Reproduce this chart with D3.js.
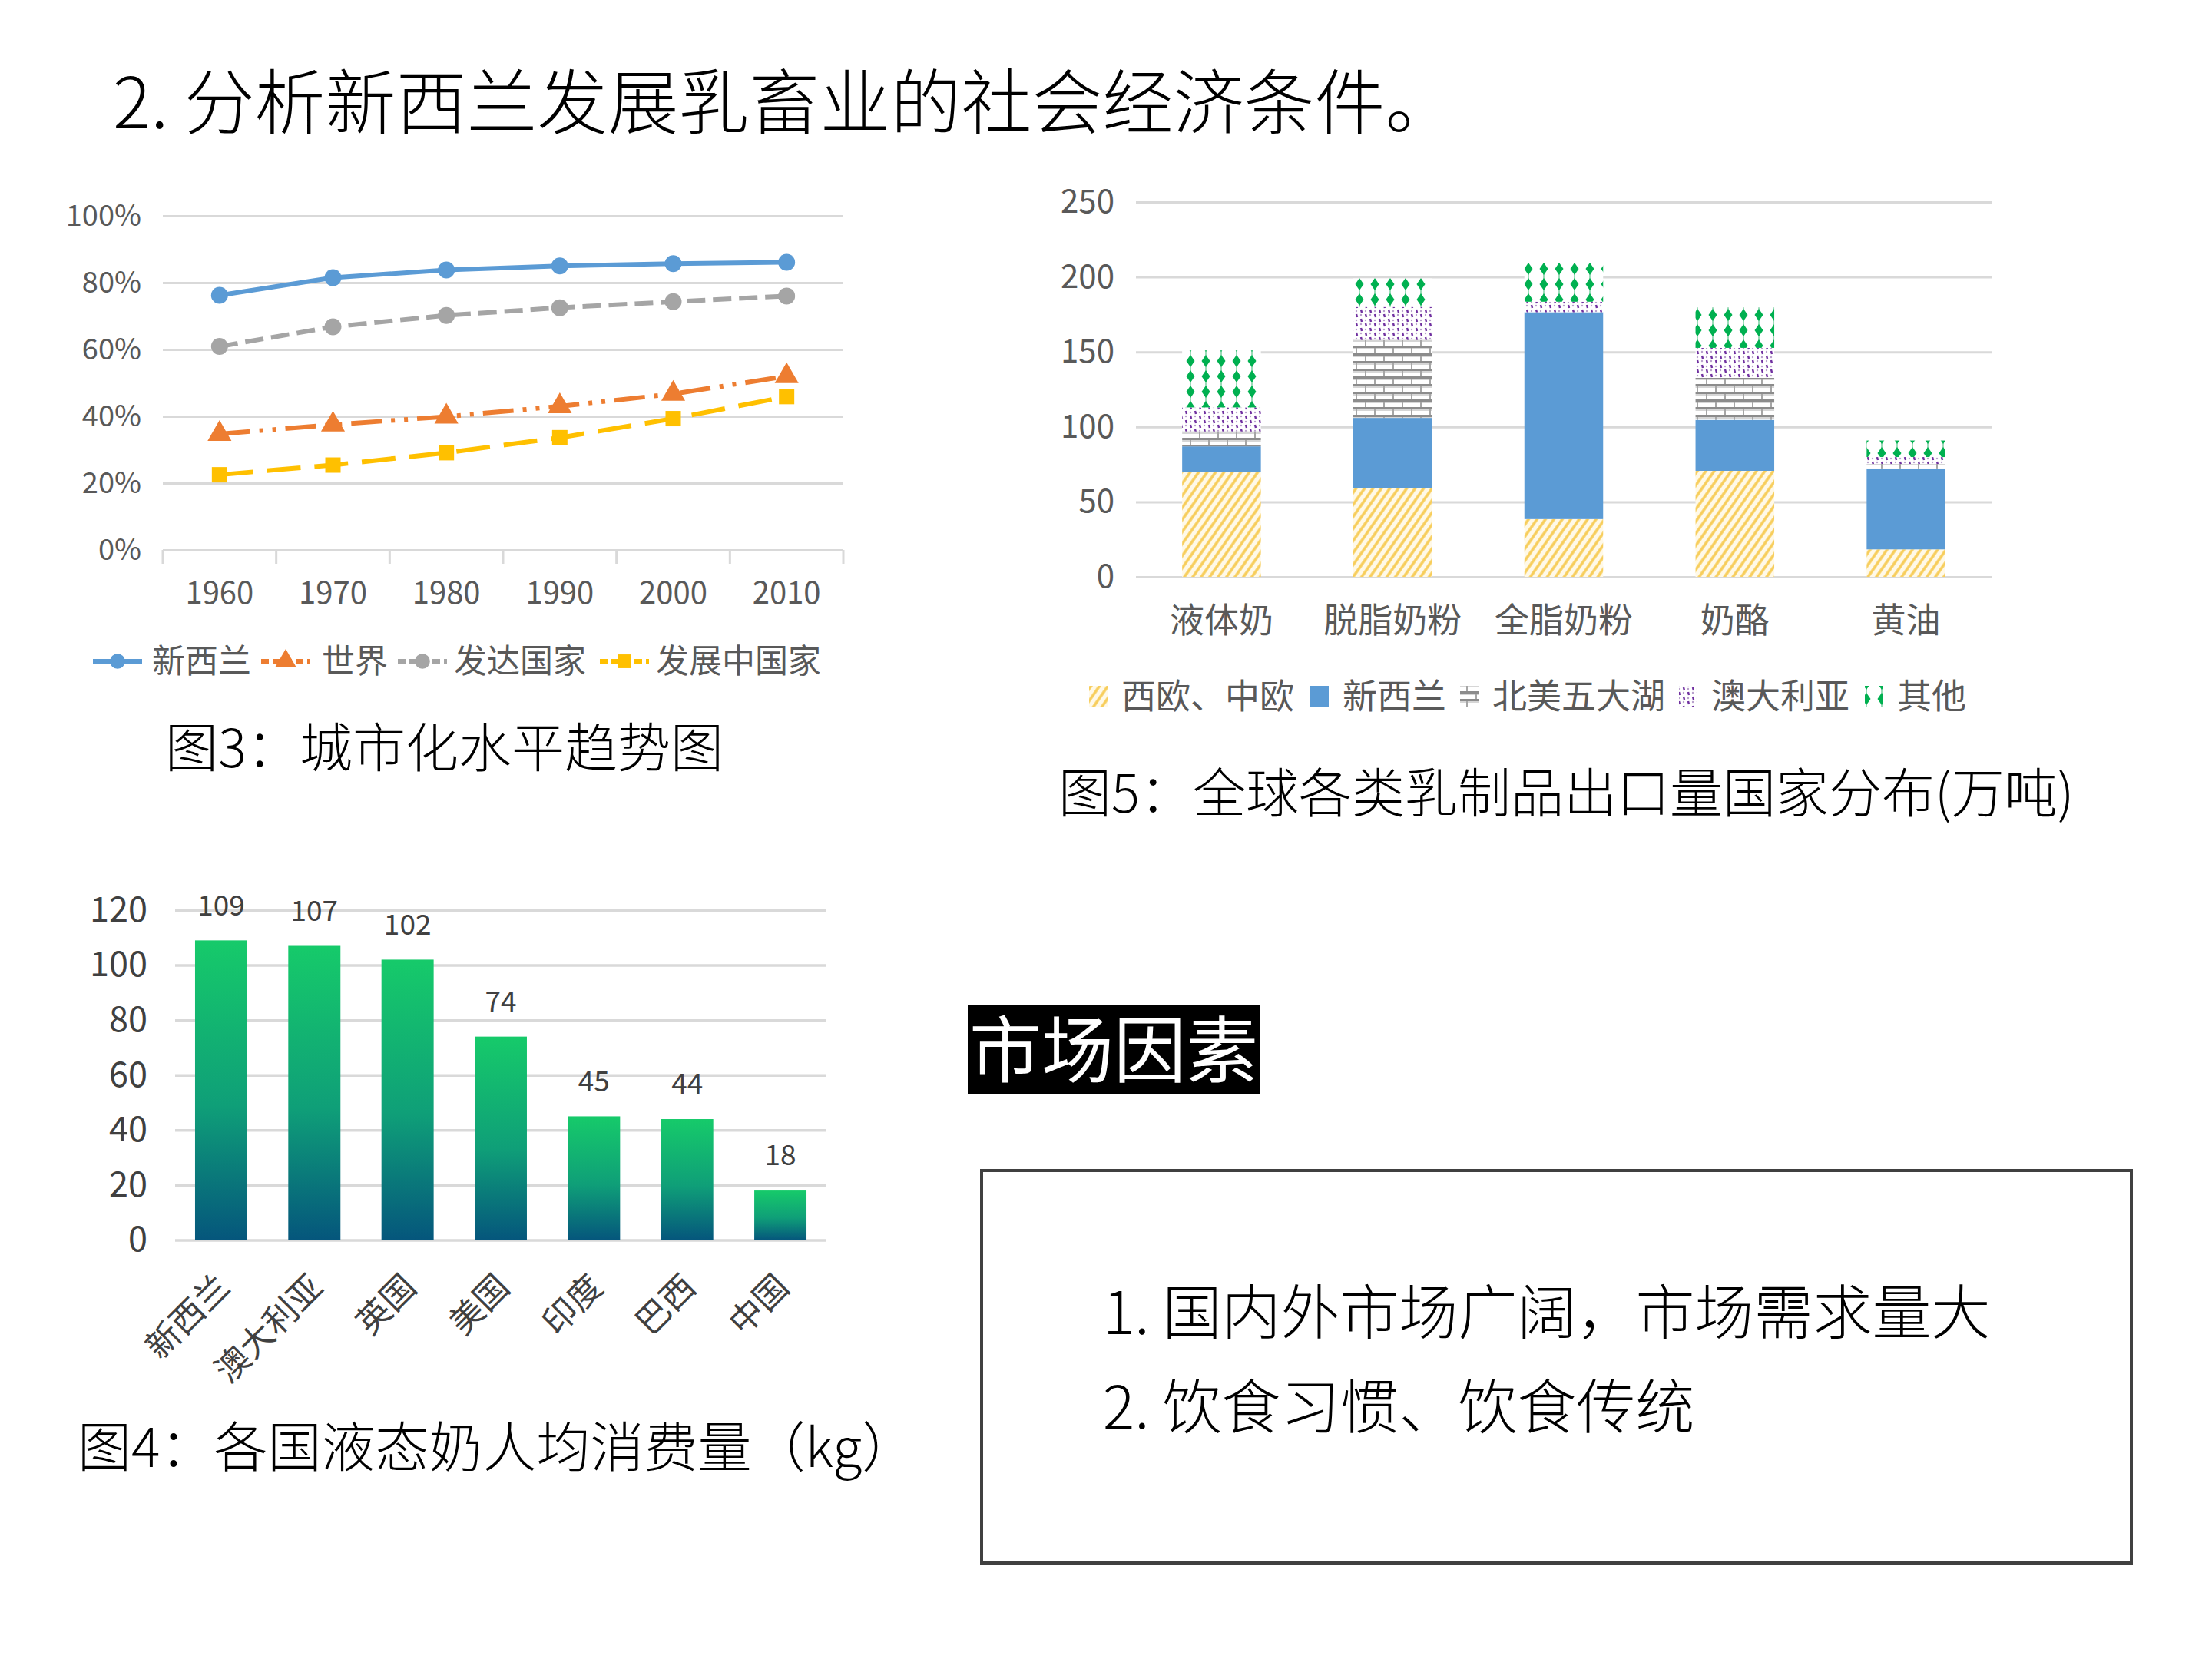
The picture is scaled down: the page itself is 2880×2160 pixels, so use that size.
<!DOCTYPE html>
<html>
<head>
<meta charset="utf-8">
<script src="https://cdn.jsdelivr.net/npm/d3@7"></script>
<style>
  html, body { margin: 0; padding: 0; background: #fff; }
  svg { display: block; }
</style>
</head>
<body>
<div id="root"></div>
<script>
// ---------- data ----------
const years = ['1960', '1970', '1980', '1990', '2000', '2010'];
const nzUrban = [0.762, 0.815, 0.838, 0.85, 0.857, 0.861];
const worldUrban = [0.347, 0.375, 0.399, 0.43, 0.467, 0.52];
const developedUrban = [0.609, 0.668, 0.702, 0.725, 0.743, 0.76];
const developingUrban = [0.225, 0.254, 0.291, 0.336, 0.393, 0.459];
const urbanNames = ['新西兰', '世界', '发达国家', '发展中国家'];
const pctTicks = [0, 0.2, 0.4, 0.6, 0.8, 1];

const products = ['液体奶', '脱脂奶粉', '全脂奶粉', '奶酪', '黄油'];
const exportRegions = ['西欧、中欧', '新西兰', '北美五大湖', '澳大利亚', '其他'];
const westCentralEurope = [70, 59, 38.5, 70.7, 18.3];
const newZealandExport = [17, 47, 138, 34, 54];
const greatLakesExport = [10, 52, 0, 28, 3];
const australiaExport = [16, 22, 7, 20, 4.6];
const otherExport = [38, 19, 26, 27, 11];
const exportTicks = [0, 50, 100, 150, 200, 250];

const countries = ['新西兰', '澳大利亚', '英国', '美国', '印度', '巴西', '中国'];
const milkPerCapita = [109, 107, 102, 74, 45, 44, 18];
const milkTicks = [0, 20, 40, 60, 80, 100, 120];

const marketPoints = ['1. 国内外市场广阔，市场需求量大', '2. 饮食习惯、饮食传统'];

// ---------- setup ----------
const FONT = '"Noto Sans CJK SC", "Noto Sans", sans-serif';
const W = 2880, H = 2160;

const svg = d3.select('#root').append('svg')
    .attr('width', W)
    .attr('height', H)
    .style('font-family', FONT);

svg.append('rect').attr('width', W).attr('height', H).attr('fill', '#fff');

const defs = svg.append('defs');

// yellow wide upward diagonal
const pDiag = defs.append('pattern')
    .attr('id', 'pDiag')
    .attr('patternUnits', 'userSpaceOnUse')
    .attr('width', 9).attr('height', 9)
    .attr('patternTransform', 'rotate(35)');
pDiag.append('rect').attr('width', 9).attr('height', 9).attr('fill', '#FFF9E8');
pDiag.append('line').attr('x1', 2).attr('y1', 0).attr('x2', 2).attr('y2', 9)
    .attr('stroke', '#F7CD5A').attr('stroke-width', 3.5);

// gray brick
const pBrick = defs.append('pattern')
    .attr('id', 'pBrick')
    .attr('patternUnits', 'userSpaceOnUse')
    .attr('width', 24).attr('height', 20);
pBrick.append('rect').attr('width', 24).attr('height', 20).attr('fill', '#fff');
[0, 10].forEach(y => {
    pBrick.append('rect').attr('x', 0).attr('y', y).attr('width', 24).attr('height', 3).attr('fill', '#8C8C8C');
    pBrick.append('rect').attr('x', 0).attr('y', y + 3).attr('width', 24).attr('height', 2).attr('fill', '#D6D6D6');
});
pBrick.append('rect').attr('x', 1).attr('y', 3).attr('width', 2).attr('height', 7).attr('fill', '#A6A6A6');
pBrick.append('rect').attr('x', 13).attr('y', 13).attr('width', 2).attr('height', 7).attr('fill', '#A6A6A6');

// purple divot
const pDivot = defs.append('pattern')
    .attr('id', 'pDivot')
    .attr('patternUnits', 'userSpaceOnUse')
    .attr('width', 12).attr('height', 12);
pDivot.append('rect').attr('width', 12).attr('height', 12).attr('fill', '#fff');
pDivot.append('line').attr('x1', 2).attr('y1', 1).attr('x2', 3).attr('y2', 5)
    .attr('stroke', '#7030A0').attr('stroke-width', 2.5);
pDivot.append('line').attr('x1', 8).attr('y1', 7).attr('x2', 9).attr('y2', 11)
    .attr('stroke', '#7030A0').attr('stroke-width', 2.5);
pDivot.append('circle').attr('cx', 8).attr('cy', 2).attr('r', 1.2).attr('fill', '#B9A0CC');
pDivot.append('circle').attr('cx', 2).attr('cy', 9).attr('r', 1.2).attr('fill', '#B9A0CC');

// green diamonds
const pDiamond = defs.append('pattern')
    .attr('id', 'pDiamond')
    .attr('patternUnits', 'userSpaceOnUse')
    .attr('width', 20).attr('height', 20);
pDiamond.append('rect').attr('width', 20).attr('height', 20).attr('fill', '#fff');
pDiamond.append('line').attr('x1', 10).attr('y1', 0).attr('x2', 10).attr('y2', 20)
    .attr('stroke', '#9ADBB8').attr('stroke-width', 2);
pDiamond.append('polygon').attr('points', '10,2 15.5,10 10,18 4.5,10').attr('fill', '#00B050');

// green gradient for bars
const grad = defs.append('linearGradient')
    .attr('id', 'gMilk')
    .attr('x1', 0).attr('y1', 0).attr('x2', 0).attr('y2', 1);
grad.append('stop').attr('offset', '0%').attr('stop-color', '#16CA6A');
grad.append('stop').attr('offset', '55%').attr('stop-color', '#0F9F78');
grad.append('stop').attr('offset', '100%').attr('stop-color', '#05567C');

// ---------- main title ----------
svg.append('text')
    .attr('x', 147)
    .attr('y', 132 + 0.38 * 92)
    .attr('font-size', 92)
    .attr('font-weight', 300)
    .attr('fill', '#000')
    .text('2. 分析新西兰发展乳畜业的社会经济条件。');

// ---------- chart 1: urbanization lines ----------
const g1 = svg.append('g');
const x1 = d3.scaleBand().domain(years).range([212, 1098]);
const y1 = d3.scaleLinear().domain([0, 1]).range([716, 281]);

g1.append('g')
    .attr('transform', 'translate(212,0)')
    .call(d3.axisLeft(y1).tickValues(pctTicks).tickFormat(d3.format('.0%')).tickSize(-886).tickPadding(28))
    .call(g => g.select('.domain').remove())
    .call(g => g.selectAll('.tick line').attr('stroke', '#D9D9D9').attr('stroke-width', 3))
    .call(g => g.selectAll('.tick text')
        .attr('font-size', 38).attr('fill', '#595959').attr('font-family', FONT));

// boundary ticks below axis
const bounds1 = years.map(d => x1(d)).concat([x1.range()[1]]);
g1.selectAll('.btick')
    .data(bounds1)
    .join('line')
    .attr('x1', d => d).attr('x2', d => d)
    .attr('y1', y1(0)).attr('y2', y1(0) + 18)
    .attr('stroke', '#D9D9D9').attr('stroke-width', 3);

g1.append('g')
    .attr('transform', `translate(0,${y1(0)})`)
    .call(d3.axisBottom(x1).tickSize(0).tickPadding(42))
    .call(g => g.select('.domain').remove())
    .call(g => g.selectAll('.tick text')
        .attr('font-size', 40).attr('fill', '#595959').attr('font-family', FONT));

const urbanSeries = [
    { name: urbanNames[0], values: nzUrban, color: '#5B9BD5', dash: null, marker: d3.symbolCircle, msize: 380 },
    { name: urbanNames[1], values: worldUrban, color: '#ED7D31', dash: '40,12,5,12,5,12', marker: d3.symbolTriangle, msize: 420 },
    { name: urbanNames[2], values: developedUrban, color: '#A5A5A5', dash: '24,10', marker: d3.symbolCircle, msize: 380 },
    { name: urbanNames[3], values: developingUrban, color: '#FFC000', dash: '44,18', marker: d3.symbolSquare, msize: 400 }
];

const line1 = d3.line()
    .x((d, i) => x1(years[i]) + x1.bandwidth() / 2)
    .y(d => y1(d));

urbanSeries.forEach(s => {
    g1.append('path')
        .attr('d', line1(s.values))
        .attr('fill', 'none')
        .attr('stroke', s.color)
        .attr('stroke-width', 6)
        .attr('stroke-dasharray', s.dash)
        .attr('stroke-linejoin', 'round');
    g1.selectAll(null)
        .data(s.values)
        .join('path')
        .attr('transform', (d, i) => `translate(${x1(years[i]) + x1.bandwidth() / 2},${y1(d)})`)
        .attr('d', d3.symbol().type(s.marker).size(s.msize))
        .attr('fill', s.color);
});

// legend 1
const leg1X = [121, 340, 518, 781];
const leg1TextX = [198, 419, 591, 854];
urbanSeries.forEach((s, i) => {
    const lg = g1.append('g');
    lg.append('line')
        .attr('x1', leg1X[i]).attr('x2', leg1X[i] + 64)
        .attr('y1', 861).attr('y2', 861)
        .attr('stroke', s.color).attr('stroke-width', 6)
        .attr('stroke-dasharray', s.dash ? '10,5' : null);
    lg.append('path')
        .attr('transform', `translate(${leg1X[i] + 32},861)`)
        .attr('d', d3.symbol().type(s.marker).size(s.msize * 0.8))
        .attr('fill', s.color);
    lg.append('text')
        .attr('x', leg1TextX[i]).attr('y', 861 + 0.36 * 43)
        .attr('font-size', 43).attr('fill', '#595959')
        .text(s.name);
});

svg.append('text')
    .attr('x', 215).attr('y', 973 + 0.38 * 69)
    .attr('font-size', 69).attr('font-weight', 300).attr('fill', '#000')
    .text('图3：城市化水平趋势图');

// ---------- chart 2: stacked exports ----------
const g2 = svg.append('g');
const x2 = d3.scaleBand().domain(products).range([1479, 2593]).paddingInner(0.54).paddingOuter(0.27);
const y2 = d3.scaleLinear().domain([0, 250]).range([751, 263]);

g2.append('g')
    .attr('transform', 'translate(1479,0)')
    .call(d3.axisLeft(y2).tickValues(exportTicks).tickSize(-1114).tickPadding(28))
    .call(g => g.select('.domain').remove())
    .call(g => g.selectAll('.tick line').attr('stroke', '#D9D9D9').attr('stroke-width', 3))
    .call(g => g.selectAll('.tick text')
        .attr('font-size', 42).attr('fill', '#595959').attr('font-family', FONT));

g2.append('g')
    .attr('transform', `translate(0,${y2(0)})`)
    .call(d3.axisBottom(x2).tickSize(0).tickPadding(41))
    .call(g => g.select('.domain').remove())
    .call(g => g.selectAll('.tick text')
        .attr('font-size', 45).attr('fill', '#595959').attr('font-family', FONT));

const exportCols = [westCentralEurope, newZealandExport, greatLakesExport, australiaExport, otherExport];
const exportRows = products.map((p, i) => {
    const row = { product: p };
    exportRegions.forEach((r, k) => { row[r] = exportCols[k][i]; });
    return row;
});
const stacked = d3.stack().keys(exportRegions)(exportRows);
const regionFill = d3.scaleOrdinal()
    .domain(exportRegions)
    .range(['url(#pDiag)', '#5B9BD5', 'url(#pBrick)', 'url(#pDivot)', 'url(#pDiamond)']);

g2.selectAll('.layer')
    .data(stacked)
    .join('g')
    .attr('fill', d => regionFill(d.key))
    .selectAll('rect')
    .data(d => d)
    .join('rect')
    .attr('x', d => x2(d.data.product))
    .attr('y', d => y2(d[1]))
    .attr('width', x2.bandwidth())
    .attr('height', d => Math.max(0, y2(d[0]) - y2(d[1])));

// legend 2
const leg2X = [1418, 1706, 1901, 2186, 2428];
exportRegions.forEach((r, i) => {
    g2.append('rect')
        .attr('x', leg2X[i]).attr('y', 893)
        .attr('width', 24).attr('height', 28)
        .attr('fill', regionFill(r));
    g2.append('text')
        .attr('x', leg2X[i] + 42).attr('y', 907 + 0.36 * 45)
        .attr('font-size', 45).attr('fill', '#595959')
        .text(r);
});

svg.append('text')
    .attr('x', 1378).attr('y', 1032 + 0.38 * 69)
    .attr('font-size', 69).attr('font-weight', 300).attr('fill', '#000')
    .text('图5：全球各类乳制品出口量国家分布(万吨)');

// ---------- chart 3: per-capita liquid milk ----------
const g3 = svg.append('g');
const x3 = d3.scaleBand().domain(countries).range([228, 1076]).paddingInner(0.44).paddingOuter(0.214);
const y3 = d3.scaleLinear().domain([0, 120]).range([1614.5, 1185]);

g3.append('g')
    .attr('transform', 'translate(228,0)')
    .call(d3.axisLeft(y3).tickValues(milkTicks).tickSize(-848).tickPadding(36))
    .call(g => g.select('.domain').remove())
    .call(g => g.selectAll('.tick line').attr('stroke', '#D9D9D9').attr('stroke-width', 3.5))
    .call(g => g.selectAll('.tick text')
        .attr('font-size', 45).attr('fill', '#404040').attr('font-family', FONT));

g3.selectAll('.bar')
    .data(milkPerCapita)
    .join('rect')
    .attr('x', (d, i) => x3(countries[i]))
    .attr('y', d => y3(d))
    .attr('width', x3.bandwidth())
    .attr('height', d => y3(0) - y3(d))
    .attr('fill', 'url(#gMilk)');

g3.selectAll('.val')
    .data(milkPerCapita)
    .join('text')
    .attr('x', (d, i) => x3(countries[i]) + x3.bandwidth() / 2)
    .attr('y', d => y3(d) - 46 + 0.36 * 37)
    .attr('text-anchor', 'middle')
    .attr('font-size', 37).attr('fill', '#404040')
    .text(d => d);

g3.selectAll('.cat')
    .data(countries)
    .join('text')
    .attr('transform', d => `translate(${x3(d) + x3.bandwidth() / 2 + 3},${y3(0) + 53}) rotate(-45)`)
    .attr('text-anchor', 'end')
    .attr('dy', '0.35em')
    .attr('font-size', 44).attr('fill', '#404040')
    .text(d => d);

svg.append('text')
    .attr('x', 101).attr('y', 1883 + 0.38 * 70)
    .attr('font-size', 70).attr('font-weight', 300).attr('fill', '#000')
    .text('图4：各国液态奶人均消费量（kg）');

// ---------- market factors ----------
svg.append('rect')
    .attr('x', 1260).attr('y', 1308)
    .attr('width', 380).attr('height', 117)
    .attr('fill', '#000');
svg.append('text')
    .attr('x', 1262).attr('y', 1366 + 0.38 * 94)
    .attr('font-size', 94).attr('fill', '#fff')
    .text('市场因素');

svg.append('rect')
    .attr('x', 1278).attr('y', 1524)
    .attr('width', 1497).attr('height', 511)
    .attr('fill', 'none')
    .attr('stroke', '#404040').attr('stroke-width', 4);

svg.selectAll('.mkt')
    .data(marketPoints)
    .join('text')
    .attr('x', 1436)
    .attr('y', (d, i) => [1708, 1831][i] + 0.38 * 77)
    .attr('font-size', 77).attr('font-weight', 300).attr('fill', '#000')
    .text(d => d);
</script>
</body>
</html>
